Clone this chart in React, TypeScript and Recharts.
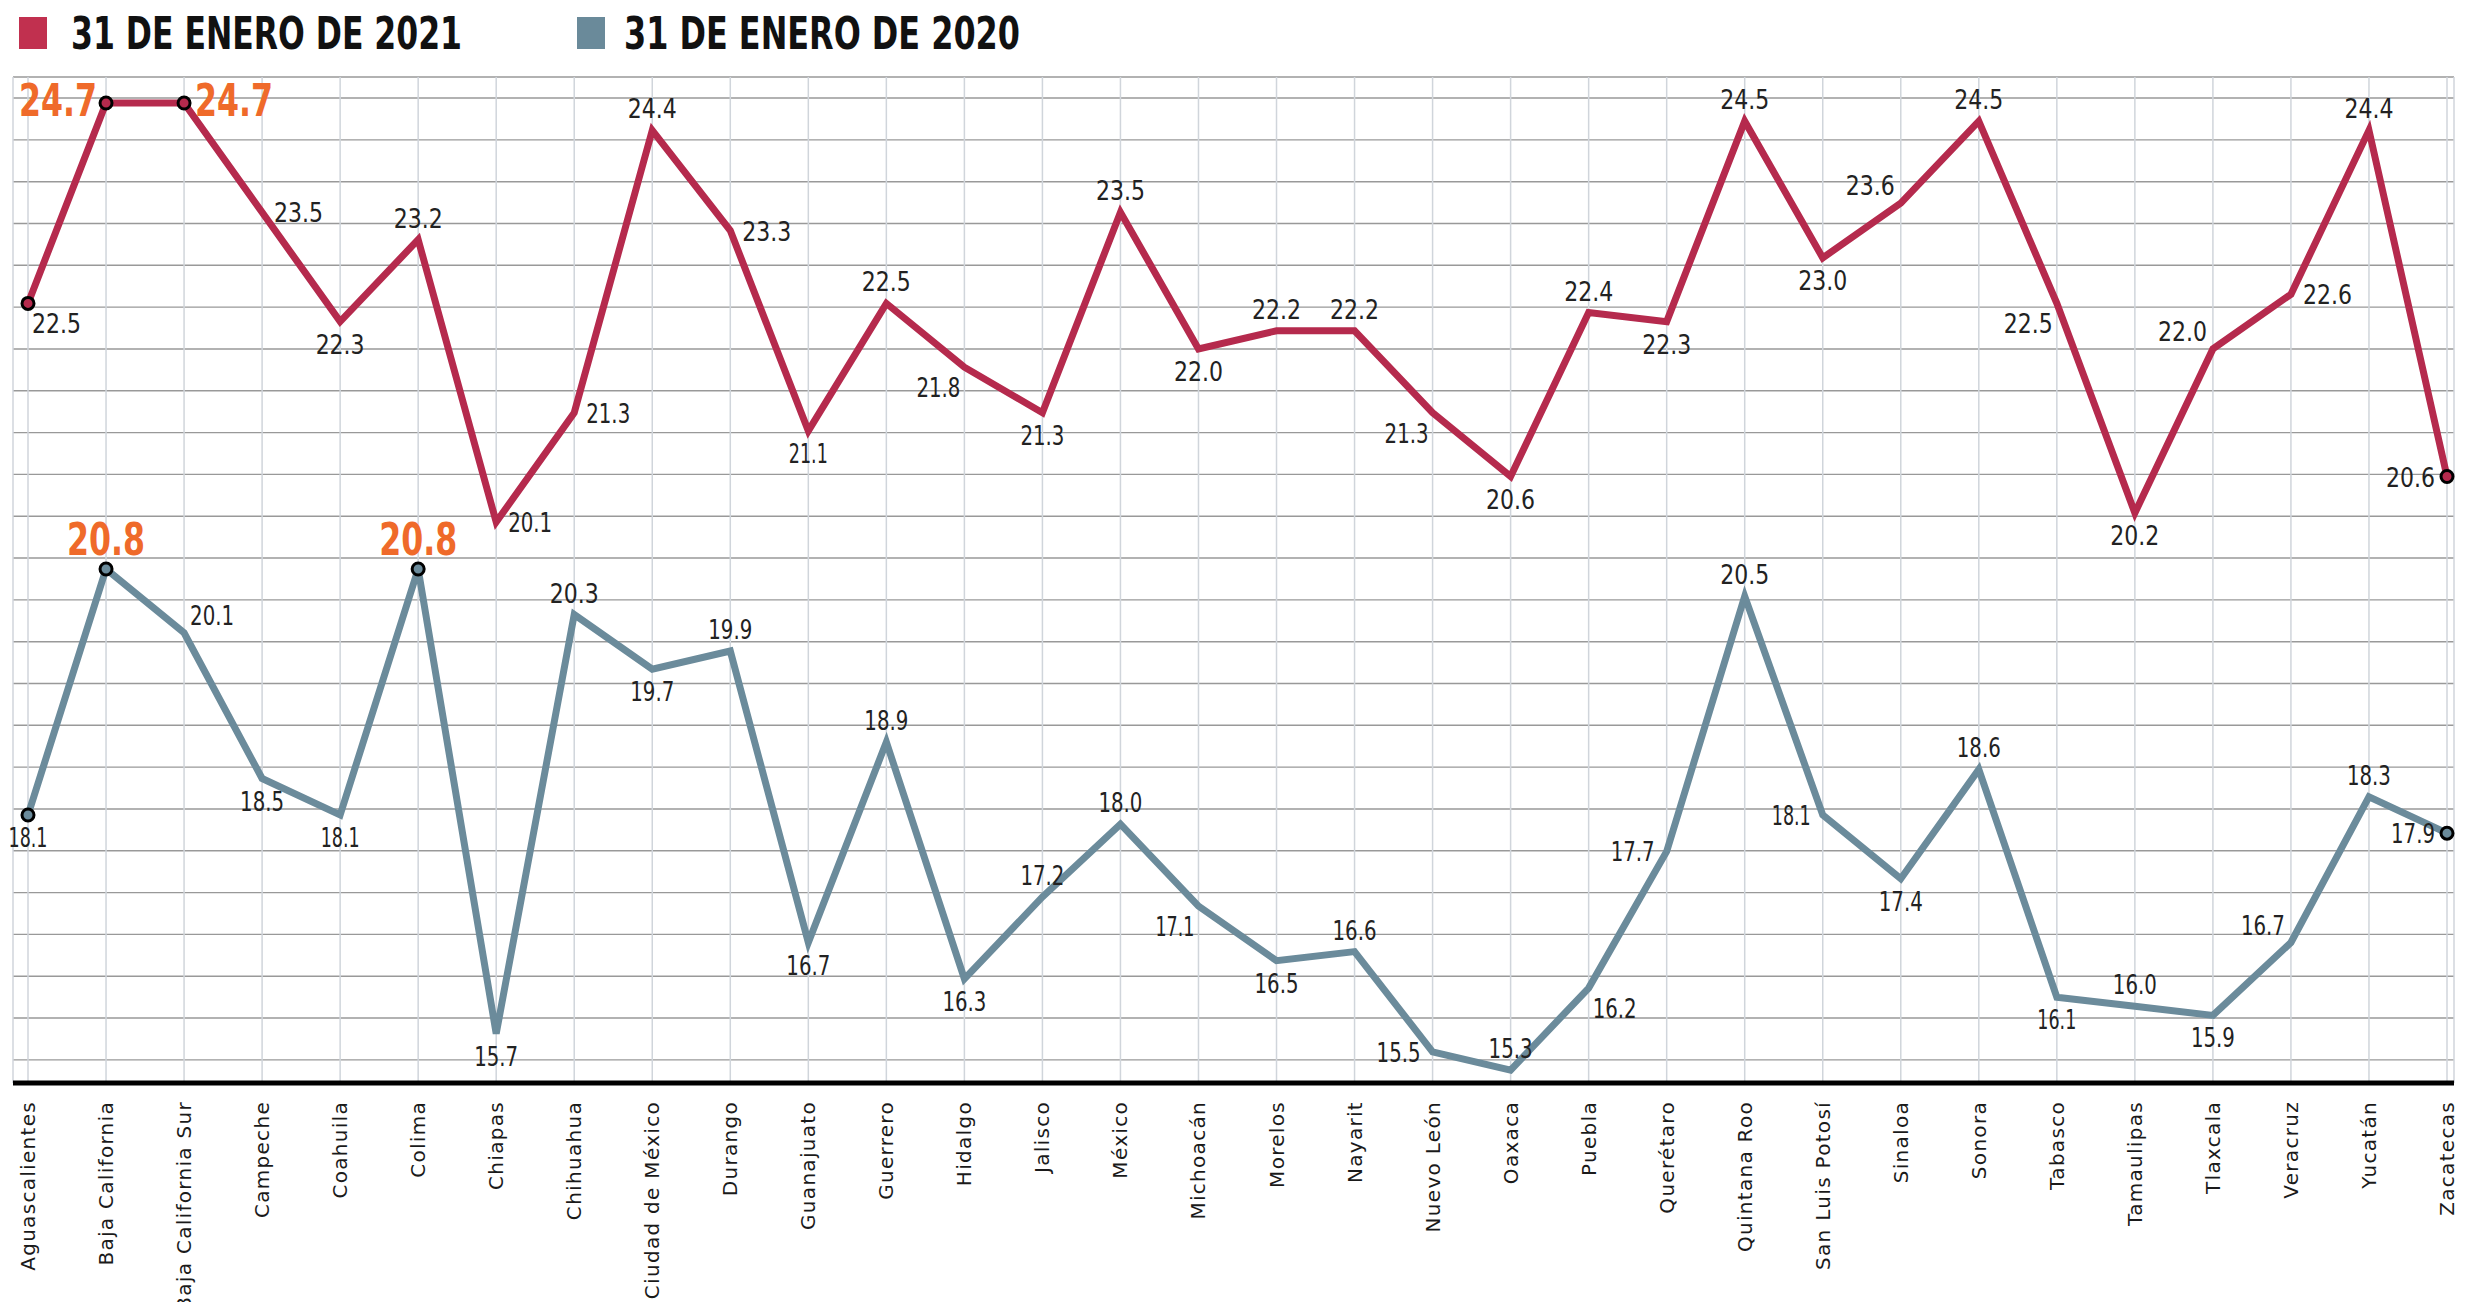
import React from 'react';
import { LineChart, Line, XAxis, YAxis, CartesianGrid, LabelList } from 'recharts';

const states = [
  'Aguascalientes', 'Baja California', 'Baja California Sur', 'Campeche', 'Coahuila', 'Colima',
  'Chiapas', 'Chihuahua', 'Ciudad de México', 'Durango', 'Guanajuato', 'Guerrero', 'Hidalgo',
  'Jalisco', 'México', 'Michoacán', 'Morelos', 'Nayarit', 'Nuevo León', 'Oaxaca', 'Puebla',
  'Querétaro', 'Quintana Roo', 'San Luis Potosí', 'Sinaloa', 'Sonora', 'Tabasco', 'Tamaulipas',
  'Tlaxcala', 'Veracruz', 'Yucatán', 'Zacatecas',
];

const jan2021 = [
  22.5, 24.7, 24.7, 23.5, 22.3, 23.2, 20.1, 21.3, 24.4, 23.3, 21.1, 22.5, 21.8, 21.3, 23.5, 22.0,
  22.2, 22.2, 21.3, 20.6, 22.4, 22.3, 24.5, 23.0, 23.6, 24.5, 22.5, 20.2, 22.0, 22.6, 24.4, 20.6,
];

const jan2020 = [
  18.1, 20.8, 20.1, 18.5, 18.1, 20.8, 15.7, 20.3, 19.7, 19.9, 16.7, 18.9, 16.3, 17.2, 18.0, 17.1,
  16.5, 16.6, 15.5, 15.3, 16.2, 17.7, 20.5, 18.1, 17.4, 18.6, 16.1, 16.0, 15.9, 16.7, 18.3, 17.9,
];

const seriesNames = ['31 DE ENERO DE 2021', '31 DE ENERO DE 2020'];

// where each value label sits around its point
const pos2021 = [
  'br', 'l', 'r', 'r', 'b', 't', 'r', 'r', 't', 'r', 'b', 't', 'bl', 'b', 't', 'b',
  't', 't', 'bl', 'b', 't', 'b', 't', 'b', 'tl', 't', 'bl', 'b', 'tl', 'r', 't', 'l',
];
const pos2020 = [
  'b', 't', 'tr', 'b', 'b', 't', 'b', 't', 'b', 't', 'b', 't', 'b', 't', 't', 'bl',
  'b', 't', 'l', 't', 'br', 'l', 't', 'l', 'b', 't', 'b', 't', 'b', 'tl', 't', 'l',
];

const RED = '#b52a4d';
const GREY = '#6b8b9b';
const ORANGE = '#ef6a2a';
const COND = "'DejaVu Sans Condensed', 'DejaVu Sans', sans-serif";

const data = states.map((s, i) => ({ state: s, y2021: jan2021[i], y2020: jan2020[i] }));

const redDomain = [13.943, 24.985];
const greyDomain = [redDomain[0] + 1.215, redDomain[1] + 1.215];
const gridTicks = Array.from({ length: 24 }, (_, i) => 22 + (i - 17) * 0.459);

const offsets: Record<string, [number, number, string]> = {
  t: [0, -12, 'middle'],
  b: [0, 32, 'middle'],
  r: [12, 10, 'start'],
  l: [-12, 10, 'end'],
  tr: [6, -8, 'start'],
  tl: [-6, -8, 'end'],
  br: [4, 30, 'start'],
  bl: [-4, 30, 'end'],
};
const bigOffsets: Record<string, [number, number, string]> = {
  t: [0, -14, 'middle'],
  l: [-9, 13, 'end'],
  r: [11, 13, 'start'],
};

// condensed width of a label, the reference face is narrow
const textWidth = (s: string, big: boolean) =>
  s.split('').reduce((w, c) => w + (c === '.' ? (big ? 12 : 7) : c === '1' ? (big ? 15 : 9) : big ? 22 : 14), 0);

function makeLabel(values: number[], positions: string[]) {
  const max = Math.max(...values);
  return (p: any) => {
    const i = p.index;
    const v = values[i];
    const big = v === max;
    const code = positions[i];
    const [dx, dy, anchor] = big ? bigOffsets[code] || offsets[code] : offsets[code];
    const s = v.toFixed(1);
    return (
      <text
        key={`lb${i}`}
        x={p.x + dx}
        y={p.y + dy}
        textAnchor={anchor}
        fontFamily={COND}
        fontWeight={big ? 700 : 400}
        fontSize={big ? 44 : 26}
        fill={big ? ORANGE : '#222'}
        textLength={textWidth(s, big)}
        lengthAdjust="spacingAndGlyphs"
      >
        {s}
      </text>
    );
  };
}

function makeDot(values: number[], color: string) {
  const max = Math.max(...values);
  return (p: any) => {
    const i = p.index;
    if (i === 0 || i === values.length - 1 || values[i] === max) {
      return <circle key={`d${i}`} cx={p.cx} cy={p.cy} r={6} fill={color} stroke="#000" strokeWidth={3} />;
    }
    return <g key={`d${i}`} />;
  };
}

const StateTick = ({ x, y, payload }: any) => (
  <text
    x={x}
    y={y + 16}
    dy="0.35em"
    transform={`rotate(-90 ${x} ${y + 16})`}
    textAnchor="end"
    fontFamily="'DejaVu Sans', sans-serif"
    fontSize={20}
    letterSpacing={1.3}
    fill="#1a1a1a"
  >
    {payload.value}
  </text>
);

export default function App() {
  return (
    <div style={{ position: 'absolute', left: 0, top: 0, width: 2479, height: 1302, background: '#fff' }}>
      <svg width={1100} height={70} style={{ position: 'absolute', left: 0, top: 0 }}>
        <rect x={19} y={17} width={28} height={32} fill="#c1304f" />
        <text x={71} y={49} fontFamily={COND} fontWeight={700} fontSize={44} fill="#111" textLength={391} lengthAdjust="spacingAndGlyphs">
          {seriesNames[0]}
        </text>
        <rect x={577} y={17} width={28} height={32} fill="#6a8a9a" />
        <text x={624} y={49} fontFamily={COND} fontWeight={700} fontSize={44} fill="#111" textLength={396} lengthAdjust="spacingAndGlyphs">
          {seriesNames[1]}
        </text>
      </svg>
      <LineChart width={2479} height={1302} data={data} margin={{ top: 77, right: 25, left: 13, bottom: 0 }}>
        <CartesianGrid vertical={false} yAxisId="r" stroke="#999" strokeWidth={1.4} />
        <CartesianGrid horizontal={false} yAxisId="r" stroke="#d0d5db" strokeWidth={1.5} />
        <XAxis
          dataKey="state"
          interval={0}
          padding={{ left: 15, right: 7 }}
          height={219}
          tickLine={false}
          tickSize={0}
          axisLine={{ stroke: '#000', strokeWidth: 5 }}
          tick={<StateTick />}
        />
        <YAxis yAxisId="r" hide domain={redDomain} ticks={gridTicks} allowDataOverflow />
        <YAxis yAxisId="g" hide domain={greyDomain} allowDataOverflow />
        <Line
          yAxisId="r"
          dataKey="y2021"
          stroke={RED}
          strokeWidth={7}
          dot={makeDot(jan2021, RED)}
          activeDot={false}
          isAnimationActive={false}
        >
          <LabelList dataKey="y2021" content={makeLabel(jan2021, pos2021)} />
        </Line>
        <Line
          yAxisId="g"
          dataKey="y2020"
          stroke={GREY}
          strokeWidth={7}
          dot={makeDot(jan2020, GREY)}
          activeDot={false}
          isAnimationActive={false}
        >
          <LabelList dataKey="y2020" content={makeLabel(jan2020, pos2020)} />
        </Line>
      </LineChart>
    </div>
  );
}
